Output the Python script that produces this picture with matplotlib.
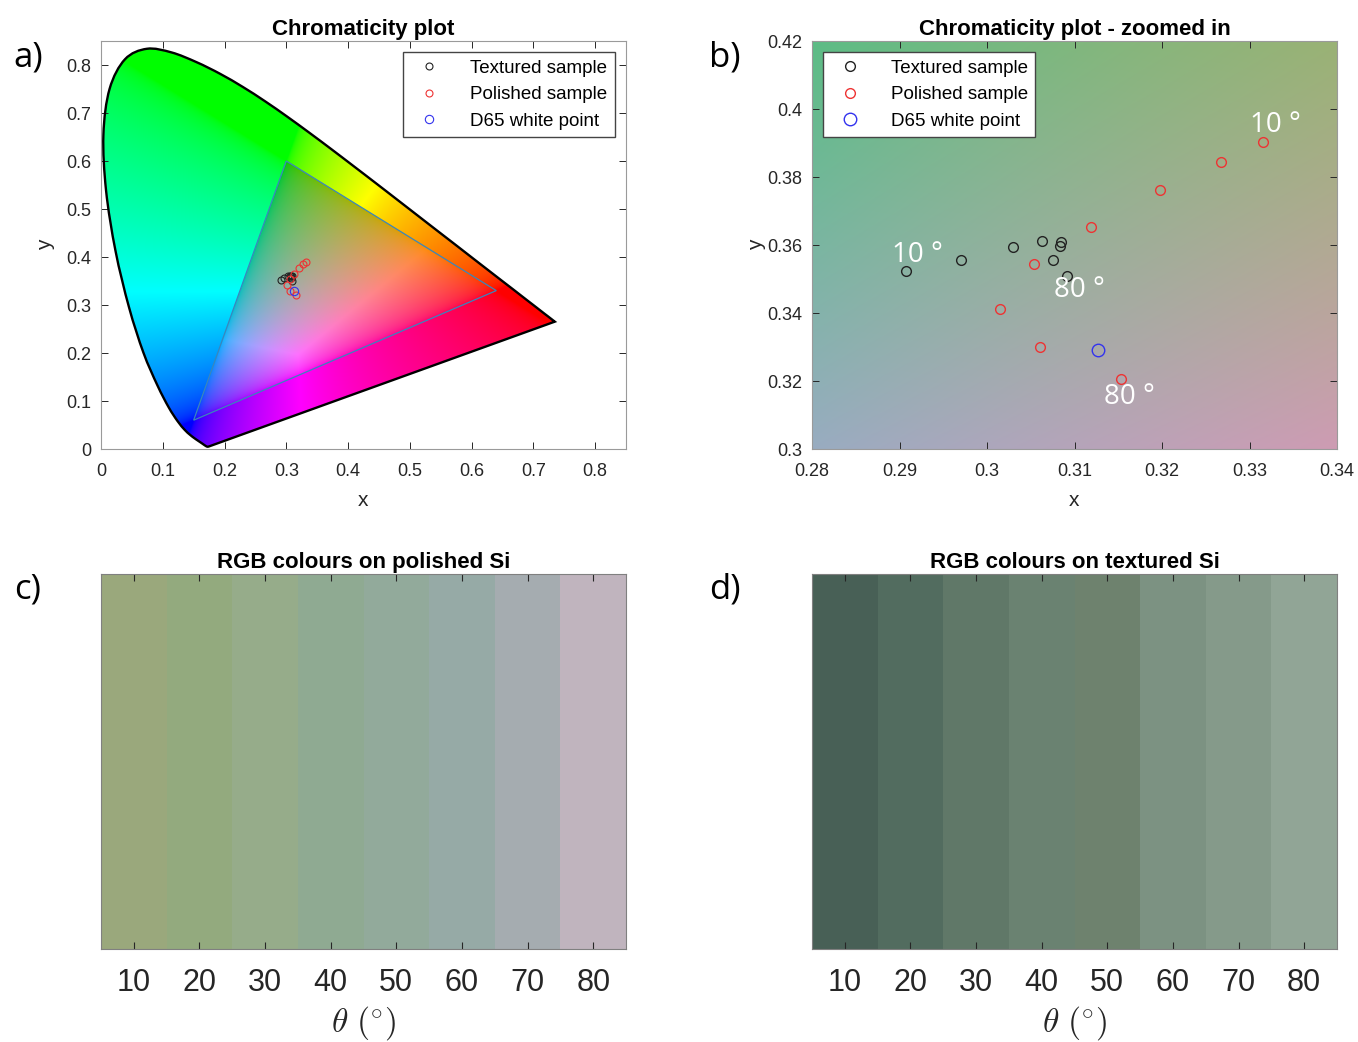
import numpy as np
import matplotlib.pyplot as plt
from matplotlib.path import Path
from matplotlib.patches import Polygon, PathPatch

plt.rcParams['font.family'] = ['Liberation Sans', 'DejaVu Sans']
plt.rcParams['mathtext.fontset'] = 'cm'

# CIE 1931 spectral locus (380-700 nm)
locus_x = [0.1741, 0.1738, 0.1733, 0.1726, 0.1714, 0.1703, 0.1689, 0.1669, 0.1644,
           0.1611, 0.1566, 0.1510, 0.1440, 0.1355, 0.1241, 0.1096, 0.0913, 0.0687,
           0.0454, 0.0235, 0.0082, 0.0039, 0.0139, 0.0389, 0.0743, 0.1142, 0.1547,
           0.1929, 0.2296, 0.2658, 0.3016, 0.3373, 0.3731, 0.4087, 0.4441, 0.4788,
           0.5125, 0.5448, 0.5752, 0.6029, 0.6270, 0.6482, 0.6658, 0.6801, 0.6915,
           0.7006, 0.7079, 0.7140, 0.7190, 0.7230, 0.7260, 0.7283, 0.7300, 0.7320,
           0.7347]
locus_y = [0.0050, 0.0049, 0.0048, 0.0048, 0.0051, 0.0058, 0.0069, 0.0086, 0.0109,
           0.0138, 0.0177, 0.0227, 0.0297, 0.0399, 0.0578, 0.0868, 0.1327, 0.2007,
           0.2950, 0.4127, 0.5384, 0.6548, 0.7502, 0.8120, 0.8338, 0.8262, 0.8059,
           0.7816, 0.7543, 0.7243, 0.6923, 0.6589, 0.6245, 0.5896, 0.5547, 0.5202,
           0.4866, 0.4544, 0.4242, 0.3965, 0.3725, 0.3514, 0.3340, 0.3197, 0.3083,
           0.2993, 0.2920, 0.2859, 0.2809, 0.2770, 0.2740, 0.2717, 0.2700, 0.2680,
           0.2653]

# sRGB gamut triangle
gamut_x = [0.64, 0.30, 0.15]
gamut_y = [0.33, 0.60, 0.06]

# measured chromaticities
textured_x = [0.2907, 0.2970, 0.3030, 0.3063, 0.3085, 0.3084, 0.3075, 0.3092]
textured_y = [0.3524, 0.3556, 0.3594, 0.3613, 0.3608, 0.3598, 0.3555, 0.3509]
polished_x = [0.3315, 0.3267, 0.3198, 0.3119, 0.3054, 0.3015, 0.3061, 0.3153]
polished_y = [0.3903, 0.3845, 0.3761, 0.3654, 0.3543, 0.3411, 0.3301, 0.3206]
d65_x = [0.3127]
d65_y = [0.3290]

# angle annotations in panel b
note_text = ['10 °', '80 °', '10 °', '80 °']
note_x = [0.2920, 0.3106, 0.3330, 0.3163]
note_y = [0.3570, 0.3468, 0.3953, 0.3153]

# RGB colour strips
angles = [10, 20, 30, 40, 50, 60, 70, 80]
polished_rgb = ['#9aa87c', '#93aa7e', '#96ac8a', '#8faa92', '#92aa9b', '#96aaa6', '#a5acb0', '#c0b4be']
textured_rgb = ['#486056', '#526c5f', '#607868', '#6a8271', '#6e826e', '#7c9282', '#859a8a', '#91a596']

M = np.array([[3.2406, -1.5372, -0.4986],
              [-0.9689, 1.8758, 0.0415],
              [0.0557, -0.2040, 1.0570]])


def xy_to_rgb(xx, yy, lum=0.4):
    # in-gamut: constant luminance; out of gamut: clipped and scaled to full brightness
    yy = np.maximum(yy, 1e-4)
    X = xx / yy * lum
    Z = (1 - xx - yy) / yy * lum
    xyz = np.stack([X, np.full_like(X, lum), Z], axis=-1)
    rgb = xyz @ M.T
    out = (rgb < 0).any(axis=-1) | (rgb > 1).any(axis=-1)
    rgb = np.clip(rgb, 0, None)
    mx = np.maximum(rgb.max(axis=-1, keepdims=True), 1e-9)
    rgb = np.where(out[..., None], rgb / mx, rgb)
    rgb = np.clip(rgb, 0, 1)
    return np.where(rgb <= 0.0031308, 12.92 * rgb, 1.055 * rgb ** (1 / 2.4) - 0.055)


def smooth_outline(xs, ys):
    # smooth curve through the locus points, closed by the line of purples
    p = np.column_stack([xs, ys])
    n = len(p)
    verts = [p[0]]
    codes = [Path.MOVETO]
    for i in range(n - 1):
        p0 = p[max(i - 1, 0)]
        p1 = p[i]
        p2 = p[i + 1]
        p3 = p[min(i + 2, n - 1)]
        verts += [p1 + (p2 - p0) / 6, p2 - (p3 - p1) / 6, p2]
        codes += [Path.CURVE4] * 3
    verts.append(p[0])
    codes.append(Path.LINETO)
    return Path(verts, codes)


fig = plt.figure(figsize=(13.58, 10.42), dpi=100)
W, H = 1358, 1042


def add_ax(l, t, r, b):
    return fig.add_axes([l / W, 1 - b / H, (r - l) / W, (b - t) / H])


ax_a = add_ax(101, 41, 626, 449)
ax_b = add_ax(812, 41, 1337, 449)
ax_c = add_ax(101, 574, 626, 949)
ax_d = add_ax(812, 574, 1337, 949)

tick_col = '#262626'
spine_col = '#9a9a9a'

# =====================================
# a) full chromaticity diagram
# =====================================
gx, gy = np.meshgrid(np.linspace(0, 0.85, 800), np.linspace(0, 0.85, 800))
im = ax_a.imshow(xy_to_rgb(gx, gy), extent=(0, 0.85, 0, 0.85), origin='lower',
                 aspect='auto', interpolation='bilinear', zorder=1)
outline = PathPatch(smooth_outline(locus_x, locus_y), facecolor='none',
                    edgecolor='black', linewidth=1.7, zorder=3)
ax_a.add_patch(outline)
im.set_clip_path(outline)
tri = Polygon(np.column_stack([gamut_x, gamut_y]), closed=True, facecolor='none',
              edgecolor='#3a86bd', linewidth=0.9, zorder=4)
ax_a.add_patch(tri)

ax_a.plot(textured_x, textured_y, 'o', mfc='none', mec='#222222', ms=5, mew=0.8,
          label='Textured sample', zorder=5)
ax_a.plot(polished_x, polished_y, 'o', mfc='none', mec='#ee3333', ms=5, mew=0.8,
          label='Polished sample', zorder=5)
ax_a.plot(d65_x, d65_y, 'o', mfc='none', mec='#3333ee', ms=6, mew=0.8,
          label='D65 white point', zorder=5)

ax_a.set_xlim(0, 0.85)
ax_a.set_ylim(0, 0.85)
ax_a.set_xticks(np.arange(0, 0.81, 0.1))
ax_a.set_xticklabels(['0', '0.1', '0.2', '0.3', '0.4', '0.5', '0.6', '0.7', '0.8'])
ax_a.set_yticks(np.arange(0, 0.81, 0.1))
ax_a.set_yticklabels(['0', '0.1', '0.2', '0.3', '0.4', '0.5', '0.6', '0.7', '0.8'])
ax_a.set_xlabel('x', fontsize=15, color=tick_col, labelpad=8)
ax_a.set_ylabel('y', fontsize=15, color=tick_col, labelpad=8)
ax_a.set_title('Chromaticity plot', fontsize=16, fontweight='bold', pad=4)
ax_a.legend(loc='upper right', fontsize=13.5, frameon=True, fancybox=False,
            edgecolor='#444444', framealpha=1, borderaxespad=0.6, handletextpad=1.2)

# =====================================
# b) zoomed in
# =====================================
bx, by = np.meshgrid(np.linspace(0.28, 0.34, 300), np.linspace(0.3, 0.42, 300))
ax_b.imshow(xy_to_rgb(bx, by), extent=(0.28, 0.34, 0.3, 0.42), origin='lower',
            aspect='auto', interpolation='bilinear', zorder=1)
ax_b.plot(textured_x, textured_y, 'o', mfc='none', mec='#222222', ms=7, mew=1.0,
          label='Textured sample', zorder=5)
ax_b.plot(polished_x, polished_y, 'o', mfc='none', mec='#ee3333', ms=7, mew=1.0,
          label='Polished sample', zorder=5)
ax_b.plot(d65_x, d65_y, 'o', mfc='none', mec='#3333ee', ms=9, mew=1.0,
          label='D65 white point', zorder=5)
for t, x, y in zip(note_text, note_x, note_y):
    ax_b.text(x, y, t, color='white', fontsize=20, ha='center', va='center',
              family=['Open Sans', 'DejaVu Sans'], zorder=6)

ax_b.set_xlim(0.28, 0.34)
ax_b.set_ylim(0.3, 0.42)
ax_b.set_xticks(np.arange(0.28, 0.3401, 0.01))
ax_b.set_xticklabels(['0.28', '0.29', '0.3', '0.31', '0.32', '0.33', '0.34'])
ax_b.set_yticks(np.arange(0.30, 0.4201, 0.02))
ax_b.set_yticklabels(['0.3', '0.32', '0.34', '0.36', '0.38', '0.4', '0.42'])
ax_b.set_xlabel('x', fontsize=15, color=tick_col, labelpad=8)
ax_b.set_ylabel('y', fontsize=15, color=tick_col, labelpad=1)
ax_b.set_title('Chromaticity plot - zoomed in', fontsize=16, fontweight='bold', pad=4)
ax_b.legend(loc='upper left', fontsize=13.5, frameon=True, fancybox=False,
            edgecolor='#444444', framealpha=1, borderaxespad=0.6, handletextpad=1.2)

for ax in (ax_a, ax_b):
    ax.tick_params(direction='in', top=True, right=True, labelsize=13,
                   colors=tick_col, length=5, width=0.7)
    ax.tick_params(axis='x', pad=10)
    ax.tick_params(axis='y', pad=7)
    for s in ax.spines.values():
        s.set_color(spine_col)
        s.set_linewidth(0.8)

# =====================================
# c), d) colour strips
# =====================================
for ax, cols, title in ((ax_c, polished_rgb, 'RGB colours on polished Si'),
                        (ax_d, textured_rgb, 'RGB colours on textured Si')):
    ax.bar(angles, [1] * len(angles), width=10, color=cols, linewidth=0)
    ax.set_xlim(5, 85)
    ax.set_ylim(0, 1)
    ax.set_xticks(angles)
    ax.set_yticks([])
    ax.tick_params(axis='x', direction='in', top=True, labelsize=22, colors=tick_col,
                   length=5, width=0.8, pad=14)
    ax.set_xlabel(r'$\theta\ (^{\circ})$', fontsize=24, color=tick_col, labelpad=4)
    ax.set_title(title, fontsize=16, fontweight='bold', pad=4)
    for s in ax.spines.values():
        s.set_color('#808080')
        s.set_linewidth(0.8)

# panel letters
for lab, x, y in (('a)', 28, 57), ('b)', 725, 57), ('c)', 28, 590), ('d)', 725, 590)):
    fig.text(x / W, 1 - y / H, lab, fontsize=25, ha='center', va='center',
             family=['Open Sans', 'DejaVu Sans'])

fig.savefig('out.png', dpi=100)
